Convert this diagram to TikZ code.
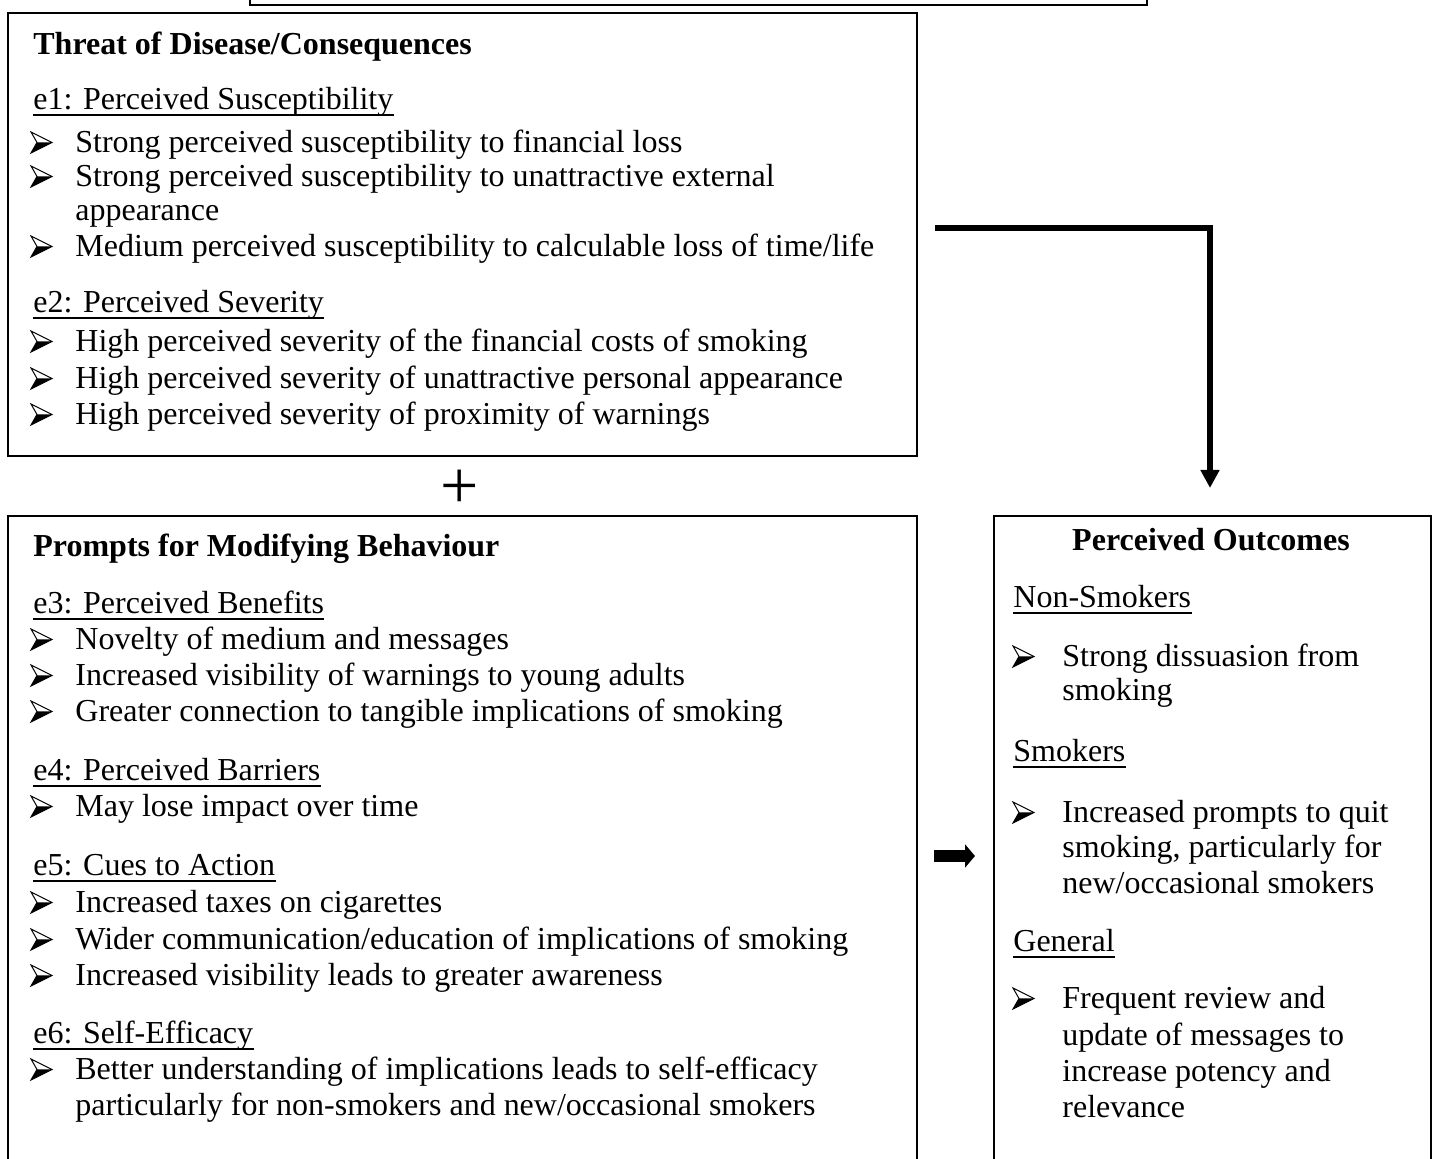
\documentclass[tikz,border=0pt]{standalone}
\usepackage{fontspec}
\setmainfont{Liberation Serif}
\usetikzlibrary{arrows.meta}

% heading, underlined sub-heading, bulleted line, continuation line
\newcommand\hd[3]{\node[txt,font=\fontsize{16}{18}\selectfont\bfseries] (#1) at (33,#2) {#3};}
\newcommand\sub[4]{\node[txt] (#1) at (#2,#3) {#4};
  \draw[uline] ([yshift=-2.6pt]#1.base west) -- ([yshift=-2.6pt]#1.base east);}
\newcommand\itm[5]{\pic at (#2,#4) {bul}; \node[txt] (#1) at (#3,#4) {#5};}
\newcommand\cont[4]{\node[txt] (#1) at (#2,#3) {#4};}

\begin{document}
\begin{tikzpicture}[x=0.5pt,y=-0.5pt,
  txt/.style={anchor=base west,inner sep=0pt,font=\fontsize{16}{18}\selectfont},
  uline/.style={line width=0.9pt},
  frame/.style={draw,line width=0.9pt,inner sep=0pt,anchor=north west},
  bigarrow/.style={line width=3pt,-{Triangle[width=9pt,length=9pt]}},
  fatarrow/.style={line width=6pt,-{Triangle[width=11.5pt,length=5pt]}},
  bul/.pic={
    \fill (6,-10.5) -- (21,-10.5) -- (0,0) -- cycle;
    \draw[line width=0.5pt,line join=miter] (0,-21) -- (21,-10.5) -- (0,0) -- (6,-10.5) -- cycle;
  }]
\useasboundingbox (0,0) rectangle (1437,1159);
\clip (0,0) rectangle (1437,1159);

% frames
\node[frame,minimum width=448.5pt,minimum height=30pt] (topbox) at (249,-56) {};
\node[frame,minimum width=454.5pt,minimum height=221.5pt] (b1) at (7,12) {};
\node[frame,minimum width=454.5pt,minimum height=340pt] (b2) at (7,515) {};
\node[frame,minimum width=218.5pt,minimum height=340pt] (b3) at (993,515) {};

% threat of disease
\hd{t1}{55}{Threat of Disease/Consequences}
\sub{s1}{33}{110}{e1: Perceived Susceptibility}
\itm{a1}{31}{75}{153}{Strong perceived susceptibility to financial loss}
\itm{a2}{31}{75}{187}{Strong perceived susceptibility to unattractive external}
\cont{a2b}{75}{221}{appearance}
\itm{a3}{31}{75}{257}{Medium perceived susceptibility to calculable loss of time/life}
\sub{s2}{33}{313}{e2: Perceived Severity}
\itm{a4}{31}{75}{352}{High perceived severity of the financial costs of smoking}
\itm{a5}{31}{75}{389}{High perceived severity of unattractive personal appearance}
\itm{a6}{31}{75}{425}{High perceived severity of proximity of warnings}

% plus sign between the two left frames
\node[inner sep=0pt,font=\fontsize{34}{34}\selectfont] (plus) at (460,489) {+};

% prompts for modifying behaviour
\hd{t2}{557}{Prompts for Modifying Behaviour}
\sub{s3}{33}{614}{e3: Perceived Benefits}
\itm{c1}{31}{75}{650}{Novelty of medium and messages}
\itm{c2}{31}{75}{686}{Increased visibility of warnings to young adults}
\itm{c3}{31}{75}{722}{Greater connection to tangible implications of smoking}
\sub{s4}{33}{781}{e4: Perceived Barriers}
\itm{c4}{31}{75}{817}{May lose impact over time}
\sub{s5}{33}{876}{e5: Cues to Action}
\itm{c5}{31}{75}{913}{Increased taxes on cigarettes}
\itm{c6}{31}{75}{950}{Wider communication/education of implications of smoking}
\itm{c7}{31}{75}{986}{Increased visibility leads to greater awareness}
\sub{s6}{33}{1044}{e6: Self-Efficacy}
\itm{c8}{31}{75}{1080}{Better understanding of implications leads to self-efficacy}
\cont{c8b}{75}{1116}{particularly for non-smokers and new/occasional smokers}

% perceived outcomes
\node[txt,anchor=base,font=\fontsize{16}{18}\selectfont\bfseries] (t3) at (1211,551) {Perceived Outcomes};
\sub{s7}{1013}{608}{Non-Smokers}
\itm{o1}{1013}{1062}{667}{Strong dissuasion from}
\cont{o1b}{1062}{701}{smoking}
\sub{s8}{1013}{762}{Smokers}
\itm{o2}{1013}{1062}{823}{Increased prompts to quit}
\cont{o2b}{1062}{858}{smoking, particularly for}
\cont{o2c}{1062}{894}{new/occasional smokers}
\sub{s9}{1013}{952}{General}
\itm{o3}{1013}{1062}{1009}{Frequent review and}
\cont{o3b}{1062}{1046}{update of messages to}
\cont{o3c}{1062}{1082}{increase potency and}
\cont{o3d}{1062}{1118}{relevance}

% connectors
\coordinate (r1) at ([xshift=8.5pt]b1.east);
\coordinate (hy) at (0,228);
\coordinate (tip) at ([xshift=-1.2pt,yshift=13.5pt]b3.north);
\draw[bigarrow] (r1 |- hy) -| (tip);

\coordinate (my) at (0,856);
\coordinate (r2) at ([xshift=8pt]b2.east);
\coordinate (l3) at ([xshift=-9pt]b3.west);
\draw[fatarrow] (r2 |- my) -- (l3 |- my);
\end{tikzpicture}
\end{document}
